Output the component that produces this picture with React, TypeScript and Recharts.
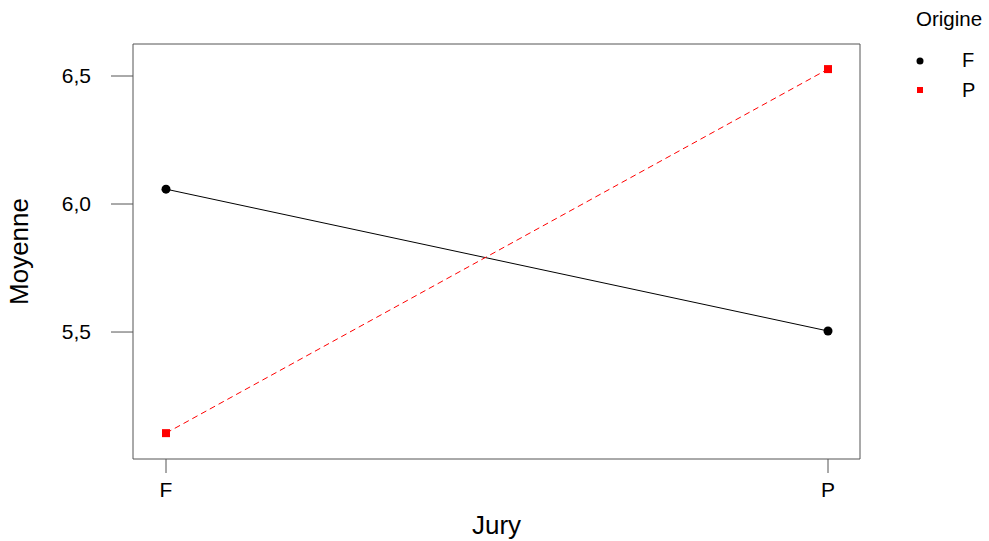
import * as React from "react"
import { LineChart, Line, XAxis, YAxis } from "recharts"

const juries = ["F", "P"]
const origineF = [6.058, 5.504]
const origineP = [5.105, 6.527]
const yTicks = [5.5, 6.0, 6.5]

const data = juries.map((jury, i) => ({ jury, F: origineF[i], P: origineP[i] }))

const FONT = "'Liberation Sans', Arial, sans-serif"
const AXIS = "#555"
const Y_DOMAIN = [5.004, 6.625]

const fmt = (v: number) => v.toFixed(1).replace(".", ",")

const SquareDot = (props: any) => {
  const { cx, cy } = props
  if (cx == null || cy == null) return null
  return <rect x={cx - 4} y={cy - 4} width={8} height={8} fill="#ff0000" />
}

const OrigineLegend = () => (
  <svg width={90} height={110} style={{ position: "absolute", left: 908, top: 0, fontFamily: FONT }}>
    <text x={8} y={26} fontSize={20.5} fill="#000">Origine</text>
    <circle cx={12} cy={61} r={3.5} fill="#000" />
    <text x={54} y={67} fontSize={20} fill="#000">F</text>
    <rect x={9} y={87} width={6} height={6} fill="#ff0000" />
    <text x={54} y={97} fontSize={20} fill="#000">P</text>
  </svg>
)

export default function App() {
  return (
    <div style={{ position: "absolute", left: 0, top: 0, width: 989, height: 541, background: "#fff" }}>
      <LineChart
        width={989}
        height={541}
        data={data}
        margin={{ top: 43, right: 128, bottom: 0, left: 0 }}
        style={{ fontFamily: FONT }}
      >
        <XAxis
          dataKey="jury"
          padding={{ left: 33, right: 32 }}
          height={82}
          tickSize={14}
          tickMargin={9}
          stroke={AXIS}
          tick={{ fill: "#000", fontSize: 21 }}
          label={{ value: "Jury", position: "insideBottom", offset: 7, fill: "#000", fontSize: 26 }}
        />
        <XAxis
          xAxisId="top"
          dataKey="jury"
          orientation="top"
          height={1}
          tick={false}
          tickLine={false}
          stroke={AXIS}
        />
        <YAxis
          domain={Y_DOMAIN}
          ticks={yTicks}
          tickFormatter={fmt}
          width={133}
          tickSize={22}
          tickMargin={20}
          stroke={AXIS}
          tick={{ fill: "#000", fontSize: 21 }}
          allowDataOverflow
          label={{ value: "Moyenne", angle: -90, position: "insideLeft", offset: 19, fill: "#000", fontSize: 26, style: { textAnchor: "middle" } }}
        />
        <YAxis
          yAxisId="right"
          orientation="right"
          domain={Y_DOMAIN}
          width={1}
          tick={false}
          tickLine={false}
          stroke={AXIS}
        />
        <Line
          dataKey="F"
          stroke="#000"
          strokeWidth={1}
          dot={{ r: 4.5, fill: "#000", stroke: "#000", strokeWidth: 0 }}
          activeDot={false}
          isAnimationActive={false}
        />
        <Line
          dataKey="P"
          stroke="#ff0000"
          strokeWidth={1}
          strokeDasharray="6 4"
          dot={<SquareDot />}
          activeDot={false}
          isAnimationActive={false}
        />
      </LineChart>
      <OrigineLegend />
    </div>
  )
}
